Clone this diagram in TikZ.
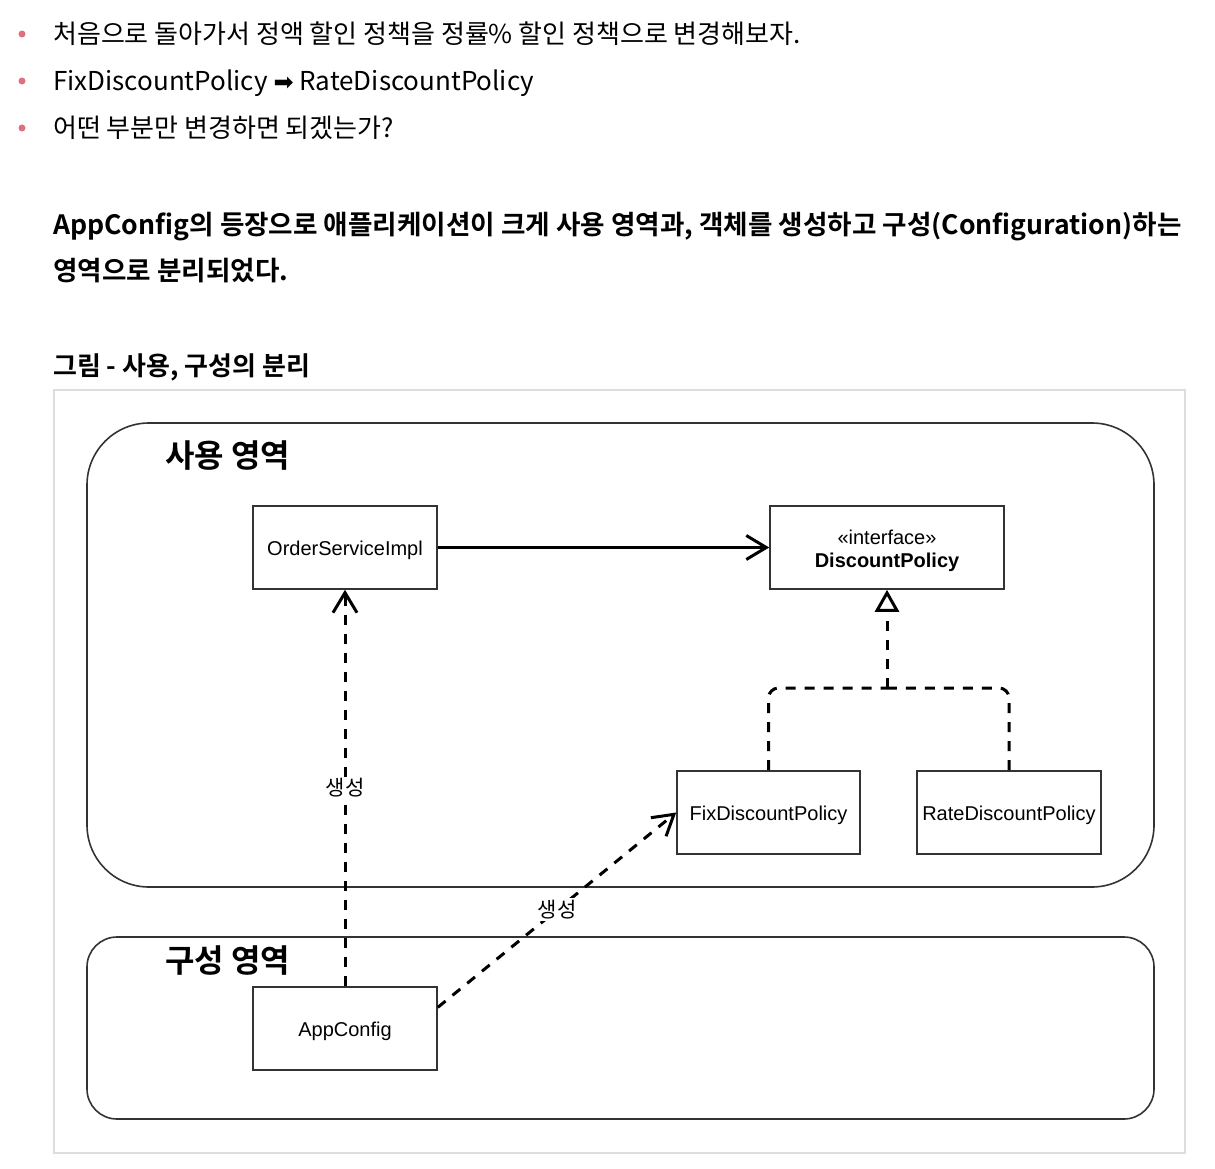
\documentclass[tikz,border=0pt]{standalone}
\usepackage{fontspec}
\setmainfont{Noto Sans CJK KR}[BoldFont={Noto Sans CJK KR Bold}]
\newfontfamily\dia{Liberation Sans}
\newfontfamily\dv{DejaVu Sans}
\usetikzlibrary{arrows.meta,calc}
\definecolor{bulletc}{HTML}{E0707E}
\definecolor{framec}{HTML}{DDDDDD}
\definecolor{boxc}{HTML}{333333}
\newcommand{\lowr}[1]{\raisebox{-3pt}[\height][\depth]{#1}}
\begin{document}
\begin{tikzpicture}[x=1pt,y=-1pt,
  toptext/.style={anchor=base west,inner sep=0pt,font=\fontsize{26}{30}\selectfont},
  boldtext/.style={anchor=base west,inner sep=0pt,font=\fontsize{26.6}{30}\selectfont\bfseries},
  bul/.style={fill=bulletc,draw=none,circle,inner sep=0pt,minimum size=7pt},
  cls/.style={draw=boxc,line width=1.6pt,fill=white,minimum height=83pt,inner sep=0pt,font=\dia\fontsize{20}{23}\selectfont,align=center},
  area/.style={draw=boxc,line width=1.6pt},
  areatitle/.style={anchor=base west,inner sep=0pt,font=\fontsize{32}{36}\selectfont\bfseries},
  assoc/.style={line width=3pt,-{Straight Barb[length=20pt,width=24pt]}},
  dep/.style={line width=3pt,dash pattern=on 10pt off 9pt,-{Straight Barb[length=20pt,width=24pt]}},
  real/.style={line width=3pt,dash pattern=on 10pt off 9pt,rounded corners=10pt},
  lbl/.style={fill=white,inner sep=2pt,font=\fontsize{21}{24}\selectfont}
]
\useasboundingbox (0,0) rectangle (1215,1169);

% top bullets
\node[bul] (b1) at (22,34) {};
\node[bul] (b2) at (22,81) {};
\node[bul] (b3) at (22,128) {};
\node[toptext] (t1) at (53,44) {처음으로 돌아가서 정액 할인 정책을 정률\% 할인 정책으로 변경해보자.};
\node[toptext] (t2) at (53,91) {FixDiscountPolicy {\dv\fontsize{24}{26}\selectfont ➡} RateDiscountPolicy};
\node[toptext] (t3) at (53,138) {어떤 부분만 변경하면 되겠는가?};

\node[boldtext] (p1) at (53,234) {AppConfig의 등장으로 애플리케이션이 크게 사용 영역과, 객체를 생성하고 구성(Configuration)하는};
\node[boldtext] (p2) at (53,280) {영역으로 분리되었다.};
\node[boldtext,font=\fontsize{26}{30}\selectfont\bfseries] (h) at (53,375) {그림 - 사용, 구성의 분리};

% figure frame
\draw[framec,line width=2pt] (54,390) rectangle (1185,1153);

% areas
\draw[area,rounded corners=62pt] (87,423) rectangle (1154,887);
\draw[area,rounded corners=30pt] (87,937) rectangle (1154,1119);
\node[areatitle] (use) at (165,467) {사용 영역};
\node[areatitle] (cfg) at (165,972) {구성 영역};

% classes
\node[cls,minimum width=184pt] (osi) at (345,547.5) {\lowr{OrderServiceImpl}};
\node[cls,minimum width=234pt] (dp) at (887,547.5) {\lowr{«interface»}\\\lowr{\bfseries DiscountPolicy}};
\node[cls,minimum width=183pt] (fix) at (768.5,812.5) {\lowr{FixDiscountPolicy}};
\node[cls,minimum width=184pt] (rate) at (1009,812.5) {\lowr{RateDiscountPolicy}};
\node[cls,minimum width=184pt] (ac) at (345,1028.5) {\lowr{AppConfig}};

% connectors
\draw[assoc] (osi.east) -- (dp.west);
\coordinate (j) at (887,688);
\draw[real] (fix.north) |- (j);
\draw[real] (rate.north) |- (j);
\draw[line width=3pt,dash pattern=on 10pt off 9pt,-{Triangle[open,length=22pt,width=24pt,fill=white]}] (j) -- (dp.south);
\draw[dep] (ac.north) -- node[lbl,pos=0.5] {생성} (osi.south);
\coordinate (acr) at ($(ac.north east)!0.25!(ac.south east)$);
\draw[dep] (acr) -- node[lbl,pos=0.5] {생성} (fix.west);
\end{tikzpicture}
\end{document}
